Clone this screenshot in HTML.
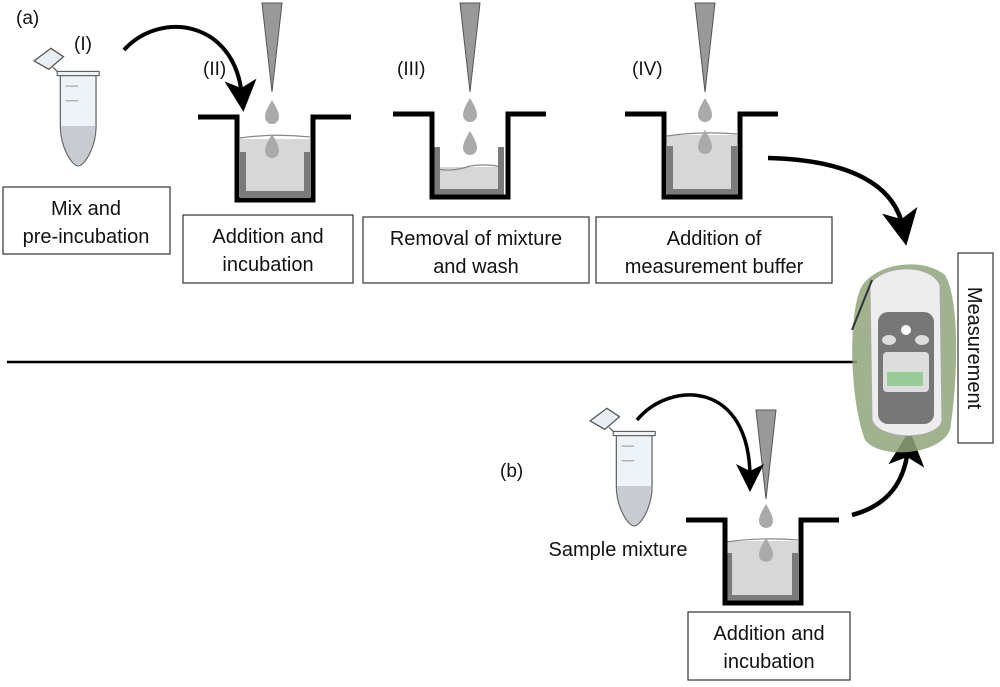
<!DOCTYPE html>
<html><head><meta charset="utf-8"><style>
html,body{margin:0;padding:0;background:#fff;}
svg{display:block;}
text{font-family:"Liberation Sans",Arial,sans-serif;fill:#111;}
</style></head><body>
<svg width="1000" height="687" viewBox="0 0 1000 687" xmlns="http://www.w3.org/2000/svg">
<defs>
<g id="well">
  <path d="M0,0 H39 V83 H115 V0 H153" fill="none" stroke="#000" stroke-width="5"/>
</g>
<g id="drop"><path d="M0,-12 C4,-5 7,0 7,5 A7,7 0 0 1 -7,5 C-7,0 -4,-5 0,-12Z" fill="#aaa"/></g>
<g id="pip"><path d="M-10,0 H10 L0,89 Z" fill="#999" stroke="#555" stroke-width="1"/></g>
<g id="tube">
  <path d="M2,18 L18,6 L30,14 L16,26 Z" fill="#e8eef3" stroke="#555" stroke-width="1.2"/>
  <path d="M20,24 L26,30 H62" fill="none" stroke="#666" stroke-width="1.2"/>
  <rect x="24" y="28" width="40" height="4" fill="#eef2f6" stroke="#555" stroke-width="1"/>
  <path d="M27,32 V80 C27,100 38,118 44,118 C50,118 61,100 61,80 V32 Z" fill="#eef3f7" stroke="#666" stroke-width="1.2"/>
  <path d="M28,80 C28,100 38,117 44,117 C50,117 60,100 60,80 Z" fill="#c8ccd2"/>
  <line x1="32" y1="42" x2="44" y2="42" stroke="#999"/>
  <line x1="32" y1="56" x2="44" y2="56" stroke="#999"/>
</g>
<marker id="ah" markerWidth="8" markerHeight="8" refX="4" refY="4" orient="auto" markerUnits="strokeWidth">
  <path d="M0,0 L8,4 L0,8 L2,4 Z" fill="#000"/>
</marker>
</defs>

<text x="16" y="24" font-size="19">(a)</text>
<text x="74" y="50" font-size="19">(I)</text>
<text x="203" y="75" font-size="19">(II)</text>
<text x="397" y="75" font-size="19">(III)</text>
<text x="632" y="75" font-size="19">(IV)</text>
<text x="500" y="477" font-size="19">(b)</text>

<g transform="translate(32,42) scale(1.05)"><use href="#tube"/></g>
<g transform="translate(588,402) scale(1.05)"><use href="#tube"/></g>

<rect x="240" y="139" width="70" height="58" fill="#d7d7d7"/>
<path d="M240,138 Q275,133 310,137" fill="none" stroke="#888" stroke-width="1.2"/>
<rect x="240" y="152" width="6" height="45" fill="#7a7a7a"/><rect x="304" y="152" width="6" height="45" fill="#7a7a7a"/><rect x="240" y="191" width="70" height="6" fill="#7a7a7a"/>
<use href="#well" x="198" y="117"/>
<rect x="434" y="167" width="70" height="28" fill="#d7d7d7"/>
<path d="M434,168 Q450,173 470,166 Q490,163 504,168" fill="none" stroke="#888" stroke-width="1.2"/>
<rect x="434" y="147" width="6" height="48" fill="#7a7a7a"/><rect x="498" y="147" width="6" height="48" fill="#7a7a7a"/><rect x="434" y="189" width="70" height="6" fill="#7a7a7a"/>
<use href="#well" x="393" y="114"/>
<rect x="667" y="135" width="70" height="60" fill="#d7d7d7"/>
<path d="M667,136 Q700,131 737,134" fill="none" stroke="#888" stroke-width="1.2"/>
<rect x="667" y="146" width="6" height="49" fill="#7a7a7a"/><rect x="731" y="146" width="6" height="49" fill="#7a7a7a"/><rect x="667" y="189" width="70" height="6" fill="#7a7a7a"/>
<use href="#well" x="625" y="114"/>
<rect x="726" y="541" width="72" height="60" fill="#d7d7d7"/>
<path d="M726,542 Q760,537 798,540" fill="none" stroke="#888" stroke-width="1.2"/>
<rect x="726" y="553" width="6" height="48" fill="#7a7a7a"/><rect x="792" y="553" width="6" height="48" fill="#7a7a7a"/><rect x="726" y="595" width="72" height="6" fill="#7a7a7a"/>
<use href="#well" x="686" y="520"/>

<use href="#pip" x="272" y="3"/><use href="#drop" x="272" y="112"/><use href="#drop" x="272" y="146"/>
<use href="#pip" x="470" y="3"/><use href="#drop" x="470" y="110"/><use href="#drop" x="470" y="143"/>
<use href="#pip" x="705" y="3"/><use href="#drop" x="705" y="110"/><use href="#drop" x="705" y="142"/>
<use href="#pip" x="766" y="410"/><use href="#drop" x="766" y="516"/><use href="#drop" x="766" y="550"/>

<path d="M124,50 C160,10 235,20 242,96" fill="none" stroke="#000" stroke-width="4" marker-end="url(#ah)"/>
<path d="M768,158 C850,160 895,185 903,228" fill="none" stroke="#000" stroke-width="4.5" marker-end="url(#ah)"/>
<path d="M637,420 C670,380 750,380 750,478" fill="none" stroke="#000" stroke-width="3.5" marker-end="url(#ah)"/>
<path d="M852,515 C890,505 905,480 908,448" fill="none" stroke="#000" stroke-width="4.5" marker-end="url(#ah)"/>

<line x1="7" y1="362" x2="857" y2="362" stroke="#000" stroke-width="2.5"/>

<path d="M860,290 C870,265 920,255 945,275 C960,300 958,380 950,430 C940,455 880,460 865,440 C850,400 848,320 860,290Z" fill="#8fa67a" opacity="0.85"/>
<path d="M870,285 C880,265 930,262 940,285 L942,420 C940,440 880,442 872,420 Z" fill="#ededed" stroke="#aaa" stroke-width="1"/>
<path d="M872,280 L852,330" stroke="#333" stroke-width="2"/>
<rect x="878" y="312" width="56" height="112" rx="10" fill="#777"/>
<circle cx="906" cy="330" r="5" fill="#fff"/>
<ellipse cx="889" cy="340" rx="7" ry="5" fill="#ddd"/><ellipse cx="922" cy="340" rx="7" ry="5" fill="#ddd"/>
<rect x="883" y="352" width="46" height="40" rx="4" fill="#ddd"/>
<rect x="887" y="372" width="36" height="14" fill="#9c9"/>

<g fill="#fff" stroke="#333" stroke-width="1.2">
<rect x="3" y="187" width="167" height="67"/>
<rect x="183" y="215" width="170" height="68"/>
<rect x="363" y="217" width="226" height="66"/>
<rect x="596" y="217" width="236" height="66"/>
<rect x="958" y="253" width="35" height="190"/>
<rect x="688" y="612" width="162" height="68"/>
</g>
<g font-size="20" text-anchor="middle">
<text x="86" y="215">Mix and</text><text x="86" y="243">pre-incubation</text>
<text x="268" y="243">Addition  and</text><text x="268" y="271">incubation</text>
<text x="476" y="245">Removal of mixture</text><text x="476" y="273">and wash</text>
<text x="714" y="245">Addition  of</text><text x="714" y="273">measurement  buffer</text>
<text x="769" y="640">Addition  and</text><text x="769" y="668">incubation</text>
<text x="618" y="556">Sample  mixture</text>
<text transform="translate(968,348) rotate(90)" x="0" y="0">Measurement</text>
</g>
</svg>
</body></html>
